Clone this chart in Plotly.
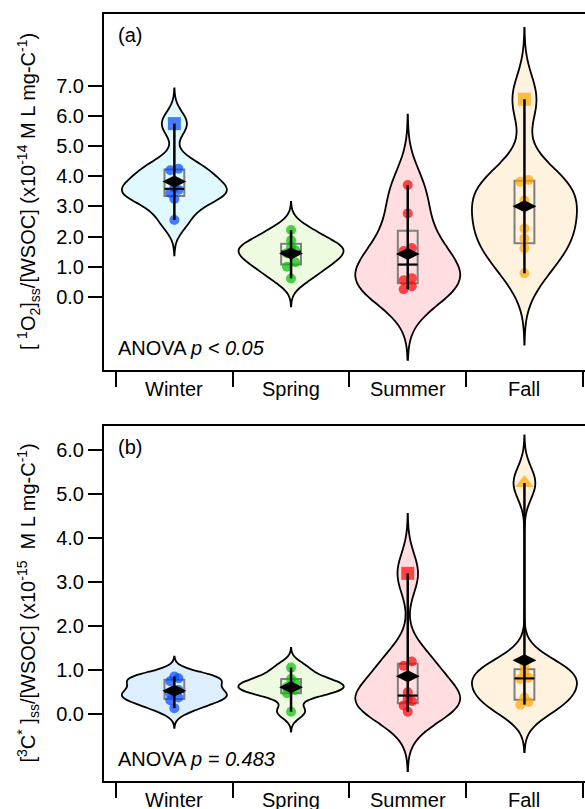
import numpy as np
import plotly.graph_objects as go

# ---------------- data ----------------
categories = ["Winter", "Spring", "Summer", "Fall"]

# panel (a): [1O2]ss/[WSOC]  (x1e-14 M L mg-C^-1)
winter_a = [5.75, 4.25, 4.20, 3.62, 3.55, 3.45, 3.25, 2.55]
spring_a = [2.22, 1.88, 1.65, 1.55, 1.45, 1.15, 1.00, 0.61]
summer_a = [3.71, 2.77, 1.62, 1.52, 0.62, 0.55, 0.35, 0.25]
fall_a = [6.56, 3.88, 3.82, 3.20, 3.00, 2.27, 1.94, 1.61, 0.78]

# panel (b): [3C*]ss/[WSOC]  (x1e-15 M L mg-C^-1)
winter_b = [0.86, 0.82, 0.75, 0.55, 0.48, 0.38, 0.32, 0.14]
spring_b = [1.06, 0.80, 0.72, 0.62, 0.55, 0.48, 0.06]
summer_b = [3.20, 1.20, 1.10, 0.50, 0.35, 0.30, 0.20, 0.06]
fall_b = [5.25, 1.10, 0.95, 0.83, 0.80, 0.38, 0.28, 0.22]

# marker symbol used for the first (highlighted) sample of each season
special_a = ["square", None, None, "square"]
special_b = [None, None, "square", "triangle-up"]

# KDE bandwidths
bw_a = [0.39, 0.31, 0.78, 0.79]
bw_b = [0.15, 0.15, 0.45, 0.36]

yticks_a = [0, 1, 2, 3, 4, 5, 6, 7]
yticks_b = [0, 1, 2, 3, 4, 5, 6]

anova_a = "ANOVA <i>p &lt; 0.05</i>"
anova_b = "ANOVA <i>p = 0.483</i>"
title_a = "[ <sup>1</sup>O<sub>2</sub>]<sub>ss</sub>/[WSOC] (x10<sup>-14</sup> M L mg-C<sup>-1</sup>)"
title_b = "[<sup>3</sup>C<sup>*</sup> ]<sub>ss</sub>/[WSOC] (x10<sup>-15</sup>  M L mg-C<sup>-1</sup>)"

# ---------------- styles ----------------
W, H = 585, 809
FONT = "Liberation Sans, Arial, Helvetica, sans-serif"
FS = 20
point_colors = ["#0047FF", "#00C000", "#FF0000", "#FFA500"]
fills_a = ["#DFF9FF", "#EEFBE0", "#FFDDE0", "#FFF2DF"]
fills_b = ["#DDEEFF", "#EEFBE0", "#FFDDE0", "#FFF2DF"]
BOXW = 0.17

def hinges(v):
    s = np.sort(np.asarray(v, float))
    n = len(s)
    h = n // 2
    return float(np.median(s[:h])), float(np.median(s)), float(np.median(s[n - h:]))

def offsets(v, thr):
    v = np.asarray(v, float)
    order = np.argsort(v)
    off = np.zeros(len(v))
    clusters = [[order[0]]]
    for i in order[1:]:
        if v[i] - v[clusters[-1][-1]] < thr and len(clusters[-1]) < 2:
            clusters[-1].append(i)
        else:
            clusters.append([i])
    for cl in clusters:
        k = len(cl)
        for j, idx in enumerate(cl):
            off[idx] = (j - (k - 1) / 2) * 0.07
    return off

fig = go.Figure()

def add_panel(series, specials, bws, fills, xa, ya, thr):
    for i, (vals, sp, bw, fc) in enumerate(zip(series, specials, bws, fills)):
        v = np.asarray(vals, float)
        fig.add_trace(go.Violin(
            y=v, x0=i, xaxis=xa, yaxis=ya, width=0.9, scalemode="width",
            bandwidth=bw, spanmode="manual", span=[v.min() - 3 * bw, v.max() + 3 * bw],
            points=False, fillcolor=fc, line=dict(color="black", width=1.8),
            box=dict(visible=False), meanline=dict(visible=False),
            hoverinfo="skip", showlegend=False, opacity=1))
        off = offsets(v, thr)
        syms = ["circle"] * len(v)
        sizes = [10] * len(v)
        if sp is not None:
            syms[0] = sp
            sizes[0] = 13 if sp == "square" else 16
        fig.add_trace(go.Scatter(
            x=i + off, y=v, mode="markers", xaxis=xa, yaxis=ya,
            marker=dict(color=point_colors[i], size=sizes, symbol=syms, line=dict(width=0)),
            showlegend=False, hoverinfo="skip"))
        # whisker (min to max)
        fig.add_trace(go.Scatter(
            x=[i, i], y=[v.min(), v.max()], mode="lines", xaxis=xa, yaxis=ya,
            line=dict(color="black", width=2.5), showlegend=False, hoverinfo="skip"))
        q1, med, q3 = hinges(v)
        fig.add_trace(go.Box(
            x=[i], q1=[q1], median=[med], q3=[q3], lowerfence=[q1], upperfence=[q3],
            xaxis=xa, yaxis=ya, width=BOXW, whiskerwidth=0,
            line=dict(color="#7F7F7F", width=2), fillcolor="rgba(0,0,0,0)",
            showlegend=False, hoverinfo="skip"))
        fig.add_trace(go.Scatter(
            x=[i - BOXW / 2, i + BOXW / 2], y=[med, med], mode="lines", xaxis=xa, yaxis=ya,
            line=dict(color="black", width=2), showlegend=False, hoverinfo="skip"))
        fig.add_trace(go.Scatter(
            x=[i], y=[v.mean()], mode="markers", xaxis=xa, yaxis=ya,
            marker=dict(color="black", size=17, symbol="diamond-wide"),
            showlegend=False, hoverinfo="skip"))

add_panel([winter_a, spring_a, summer_a, fall_a], special_a, bw_a, fills_a, "x", "y", 0.2)
add_panel([winter_b, spring_b, summer_b, fall_b], special_b, bw_b, fills_b, "x2", "y2", 0.14)

xl, xr = 104 / W, 1.0
xrange = [-0.603, 3.519]
dom_a = [(H - 370) / H, (H - 14) / H]
dom_b = [(H - 781) / H, (H - 426) / H]

def xax(anchor):
    return dict(domain=[xl, xr], range=xrange, anchor=anchor,
                tickmode="array", tickvals=[k - 0.5 for k in range(len(categories) + 1)],
                showticklabels=False, ticks="outside", ticklen=15, tickwidth=2,
                tickcolor="black", showline=True, linewidth=2, linecolor="black",
                mirror=True, showgrid=False, zeroline=False, fixedrange=True)

def yax(anchor, dom, rng, tv):
    return dict(domain=dom, range=rng, anchor=anchor, tickmode="array",
                tickvals=tv, ticktext=["%.1f" % t for t in tv],
                ticks="outside", ticklen=14, tickwidth=2, tickcolor="black",
                showline=True, linewidth=2, linecolor="black",
                showgrid=False, zeroline=False,
                tickfont=dict(size=FS, family=FONT, color="black"))

annotations = []
for dom, lab, anova, title in [(dom_a, "(a)", anova_a, title_a), (dom_b, "(b)", anova_b, title_b)]:
    top_px = H - dom[1] * H
    bot_px = H - dom[0] * H
    annotations.append(dict(text=lab, x=116 / W, y=1 - (top_px + 21) / H, xref="paper", yref="paper",
                            xanchor="left", yanchor="middle", showarrow=False,
                            font=dict(size=FS, family=FONT, color="black")))
    annotations.append(dict(text=anova, x=116 / W, y=1 - (bot_px - 22) / H, xref="paper", yref="paper",
                            xanchor="left", yanchor="middle", showarrow=False,
                            font=dict(size=FS, family=FONT, color="black")))
    annotations.append(dict(text=title, x=28 / W, y=(dom[0] + dom[1]) / 2, xref="paper", yref="paper",
                            xanchor="center", yanchor="middle", textangle=-90, showarrow=False,
                            font=dict(size=FS, family=FONT, color="black")))
    for k, c in enumerate(categories):
        annotations.append(dict(text=c, x=(xl + (k - xrange[0]) / (xrange[1] - xrange[0]) * (xr - xl)),
                                y=1 - (bot_px + 19) / H, xref="paper", yref="paper",
                                xanchor="center", yanchor="middle", showarrow=False,
                                font=dict(size=FS, family=FONT, color="black")))

fig.update_layout(
    width=W, height=H, margin=dict(l=0, r=0, t=0, b=0),
    paper_bgcolor="white", plot_bgcolor="white",
    violinmode="overlay", boxmode="overlay",
    xaxis=xax("y"), yaxis=yax("x", dom_a, [-2.43, 9.39], yticks_a),
    xaxis2=xax("y2"), yaxis2=yax("x2", dom_b, [-1.514, 6.545], yticks_b),
    annotations=annotations, font=dict(family=FONT, size=FS, color="black"),
)

fig.write_html("out.html")
